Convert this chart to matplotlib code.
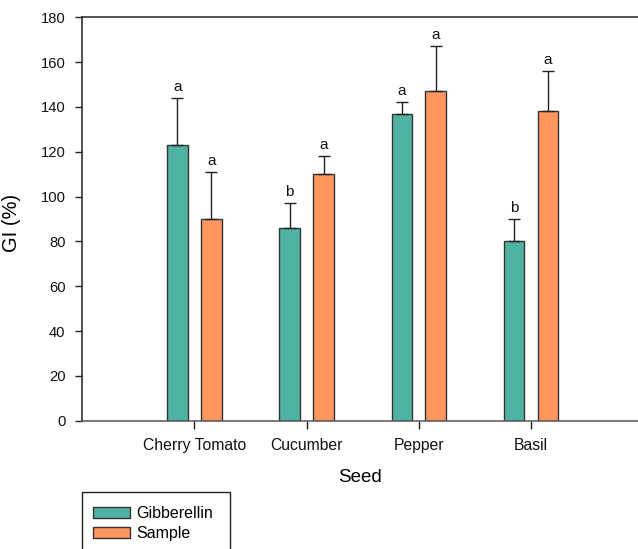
import matplotlib
matplotlib.use("Agg")
import matplotlib.pyplot as plt
from matplotlib.patches import Rectangle, Patch
import numpy as np

plt.rcParams['font.family'] = ['Liberation Sans', 'DejaVu Sans']

seeds = ["Cherry Tomato", "Cucumber", "Pepper", "Basil"]
gib_mean = [123, 86, 137, 80]
gib_err = [21, 11, 5, 10]
gib_letters = ["a", "b", "a", "b"]
sample_mean = [90, 110, 147, 138]
sample_err = [21, 8, 20, 18]
sample_letters = ["a", "a", "a", "a"]
yticks = [0, 20, 40, 60, 80, 100, 120, 140, 160, 180]

green = "#50B2A0"
orange = "#FF965E"
edge = "#333333"

W, H = 638, 549
fig = plt.figure(figsize=(W / 100, H / 100), dpi=100)
left, top, bottom = 82.2, 17.3, 420.7
ax = fig.add_axes([left / W, 1 - bottom / H, 1 - left / W, (bottom - top) / H])

x = np.arange(1, len(seeds) + 1)
offset = 0.151
width = 0.183

for means, errs, letters, color, dx in [
    (gib_mean, gib_err, gib_letters, green, -offset),
    (sample_mean, sample_err, sample_letters, orange, offset),
]:
    ax.bar(x + dx, means, width, color=color, edgecolor=edge, linewidth=1.0, zorder=2)
    ax.errorbar(x + dx, means, yerr=[np.zeros(len(errs)), errs], fmt="none",
                ecolor="#222222", elinewidth=1.0, capsize=4.3, capthick=1.0, zorder=3)
    for xi, m, e, lab in zip(x + dx, means, errs, letters):
        ax.annotate(lab, (xi, m + e), xytext=(0, 3), textcoords="offset points",
                    ha="center", va="bottom", fontsize=11, color="#111111")

ax.set_xlim(0, (W - left) / 112.2)
ax.set_ylim(0, 180)
ax.set_yticks(yticks)
ax.set_xticks(x)
ax.set_xticklabels(seeds)
ax.tick_params(axis="both", direction="out", width=1, colors="#222222")
ax.tick_params(axis="x", length=6, pad=6.5, labelsize=11.3, labelcolor="#111111")
ax.tick_params(axis="y", length=5, pad=7, labelsize=10.6, labelcolor="#111111")

for side in ["left", "bottom", "top"]:
    ax.spines[side].set_linewidth(1.1)
ax.spines["left"].set_color("#222222")
ax.spines["bottom"].set_color("#555555")
ax.spines["top"].set_color("#222222")
ax.spines["right"].set_visible(False)

ax.set_xlabel("Seed", fontsize=13.5)
ax.xaxis.set_label_coords(0.5, (bottom - 469.5) / (bottom - top))
ax.set_ylabel("GI (%)", fontsize=14.5)
ax.yaxis.set_label_coords((21 - left) / (W - left), 0.49)

# Legend box at the lower left, running off the bottom edge
fig.patches.append(Rectangle((82.3 / W, 1 - 560 / H), (230 - 82.3) / W, (560 - 491.7) / H,
                             transform=fig.transFigure, fill=False, edgecolor="#222222",
                             linewidth=1.0))
handles = [Patch(facecolor=green, edgecolor=edge, label="Gibberellin"),
           Patch(facecolor=orange, edgecolor=edge, label="Sample")]
fig.legend(handles=handles, loc="upper left", bbox_to_anchor=(93.3 / W, 1 - 506 / H),
           frameon=False, fontsize=11.5, handlelength=2.3, handleheight=0.7,
           handletextpad=0.4, labelspacing=0.3, borderaxespad=0, borderpad=0.0)

fig.savefig("out.png", dpi=100)
